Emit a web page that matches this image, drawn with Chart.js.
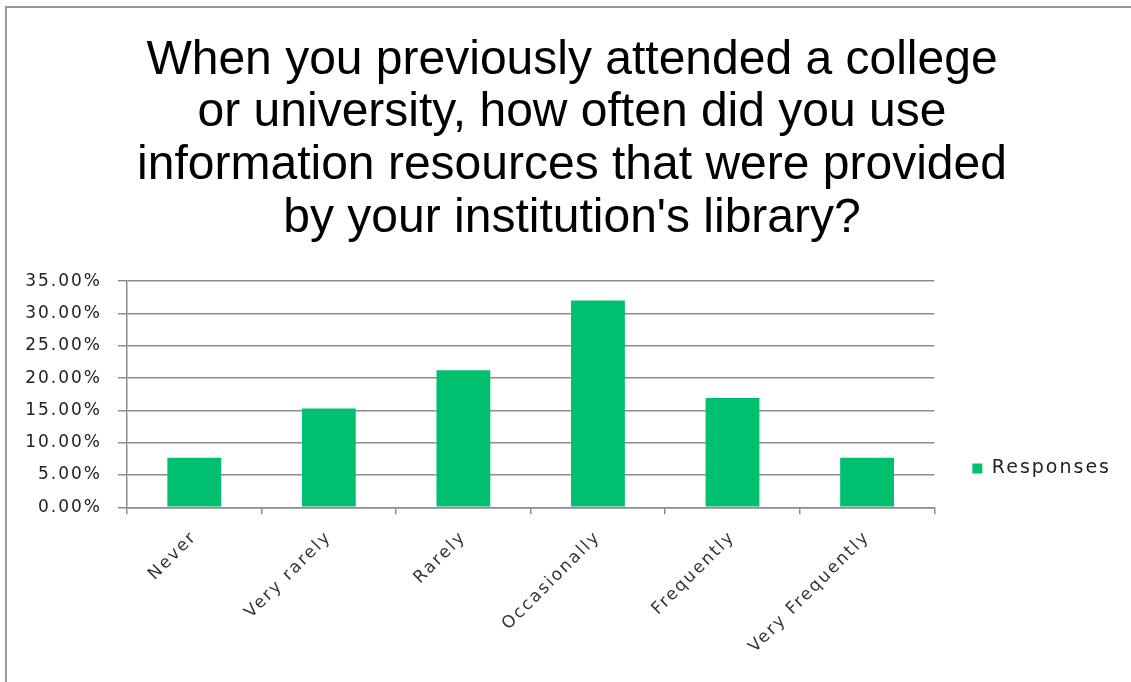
<!DOCTYPE html>
<html>
<head>
<meta charset="utf-8">
<script src="https://cdn.jsdelivr.net/npm/chart.js@4/dist/chart.umd.min.js"></script>
<style>
  html, body { margin: 0; padding: 0; background: #ffffff; }
  #wrap { position: relative; width: 1131px; height: 682px; overflow: hidden; background: #ffffff; }
  #wrap canvas { position: absolute; left: 0; top: 0; }
  #frame { position: absolute; left: 5px; top: 6px; width: 1300px; height: 900px;
           border: 2px solid #979797; pointer-events: none; }
</style>
</head>
<body>
<div id="wrap">
  <canvas id="chart" width="1131" height="682"></canvas>
  <div id="frame"></div>
</div>
<script>
// Survey answer categories and the share of responses (%) for each
const categories = ['Never', 'Very rarely', 'Rarely', 'Occasionally', 'Frequently', 'Very Frequently'];
const responses = [7.66, 15.3, 21.2, 32.0, 16.9, 7.66];
const seriesName = 'Responses';

// Value axis tick positions (%)
const yTicks = [0, 5, 10, 15, 20, 25, 30, 35];

const titleLines = [
  'When you previously attended a college',
  'or university, how often did you use',
  'information resources that were provided',
  "by your institution's library?"
];

const GREEN = '#00BF6F';
const GRID = '#8c8c8c';
const TRACK = '2px';
const labelFont = { family: "'DejaVu Sans', sans-serif", size: 17 };
const legendFont = { family: "'DejaVu Sans', sans-serif", size: 19 };

// Slightly wider tracking for axis and legend text; the title keeps normal spacing
const tracking = {
  id: 'tracking',
  beforeUpdate(chart) { chart.ctx.letterSpacing = TRACK; },
  beforeDraw(chart) { chart.ctx.letterSpacing = TRACK; },
  afterLayout(chart) {
    const t = chart.titleBlock;
    if (t && !t._plainSpacing) {
      const draw = t.draw.bind(t);
      t.draw = function () {
        chart.ctx.letterSpacing = '0px';
        draw();
        chart.ctx.letterSpacing = TRACK;
      };
      t._plainSpacing = true;
    }
  }
};

new Chart(document.getElementById('chart'), {
  type: 'bar',
  data: {
    labels: categories,
    datasets: [{
      label: seriesName,
      data: responses,
      backgroundColor: GREEN,
      borderWidth: 0,
      barPercentage: 0.4,
      categoryPercentage: 1.0
    }]
  },
  plugins: [tracking],
  options: {
    responsive: false,
    animation: false,
    layout: { padding: { left: 23, right: 10, top: 0, bottom: 12 } },
    plugins: {
      title: {
        display: true,
        text: titleLines,
        color: '#000000',
        font: { family: "'Liberation Sans', Arial, sans-serif", size: 48, weight: 'normal', lineHeight: 1.1 },
        padding: { top: 34, bottom: 36 }
      },
      legend: {
        display: true,
        position: 'right',
        align: 'start',
        fullSize: false,
        maxWidth: 190,
        // empty legend title used as top spacing so the entry sits low beside the plot
        title: { display: true, text: '', font: legendFont, padding: { top: 117, bottom: 0 } },
        labels: {
          boxWidth: 10,
          boxHeight: 10,
          padding: 38,
          color: '#222222',
          font: legendFont
        }
      },
      tooltip: { enabled: false }
    },
    scales: {
      x: {
        offset: true,
        grid: {
          offset: true,
          drawOnChartArea: false,
          drawTicks: true,
          tickLength: 7,
          color: GRID,
          lineWidth: 1.5
        },
        border: { display: true, color: GRID, width: 1.5 },
        ticks: {
          minRotation: 45,
          maxRotation: 45,
          autoSkip: false,
          padding: 13,
          color: '#333333',
          font: labelFont
        }
      },
      y: {
        min: 0,
        max: 35,
        afterBuildTicks(scale) { scale.ticks = yTicks.map(v => ({ value: v })); },
        afterFit(scale) { scale.width = 104; },
        grid: {
          drawTicks: true,
          tickLength: 9,
          color: GRID,
          lineWidth: 1.5
        },
        border: { display: true, color: GRID, width: 1.5 },
        ticks: {
          padding: 16,
          color: '#222222',
          font: labelFont,
          callback: v => Number(v).toFixed(2) + '%'
        }
      }
    }
  }
});
</script>
</body>
</html>
